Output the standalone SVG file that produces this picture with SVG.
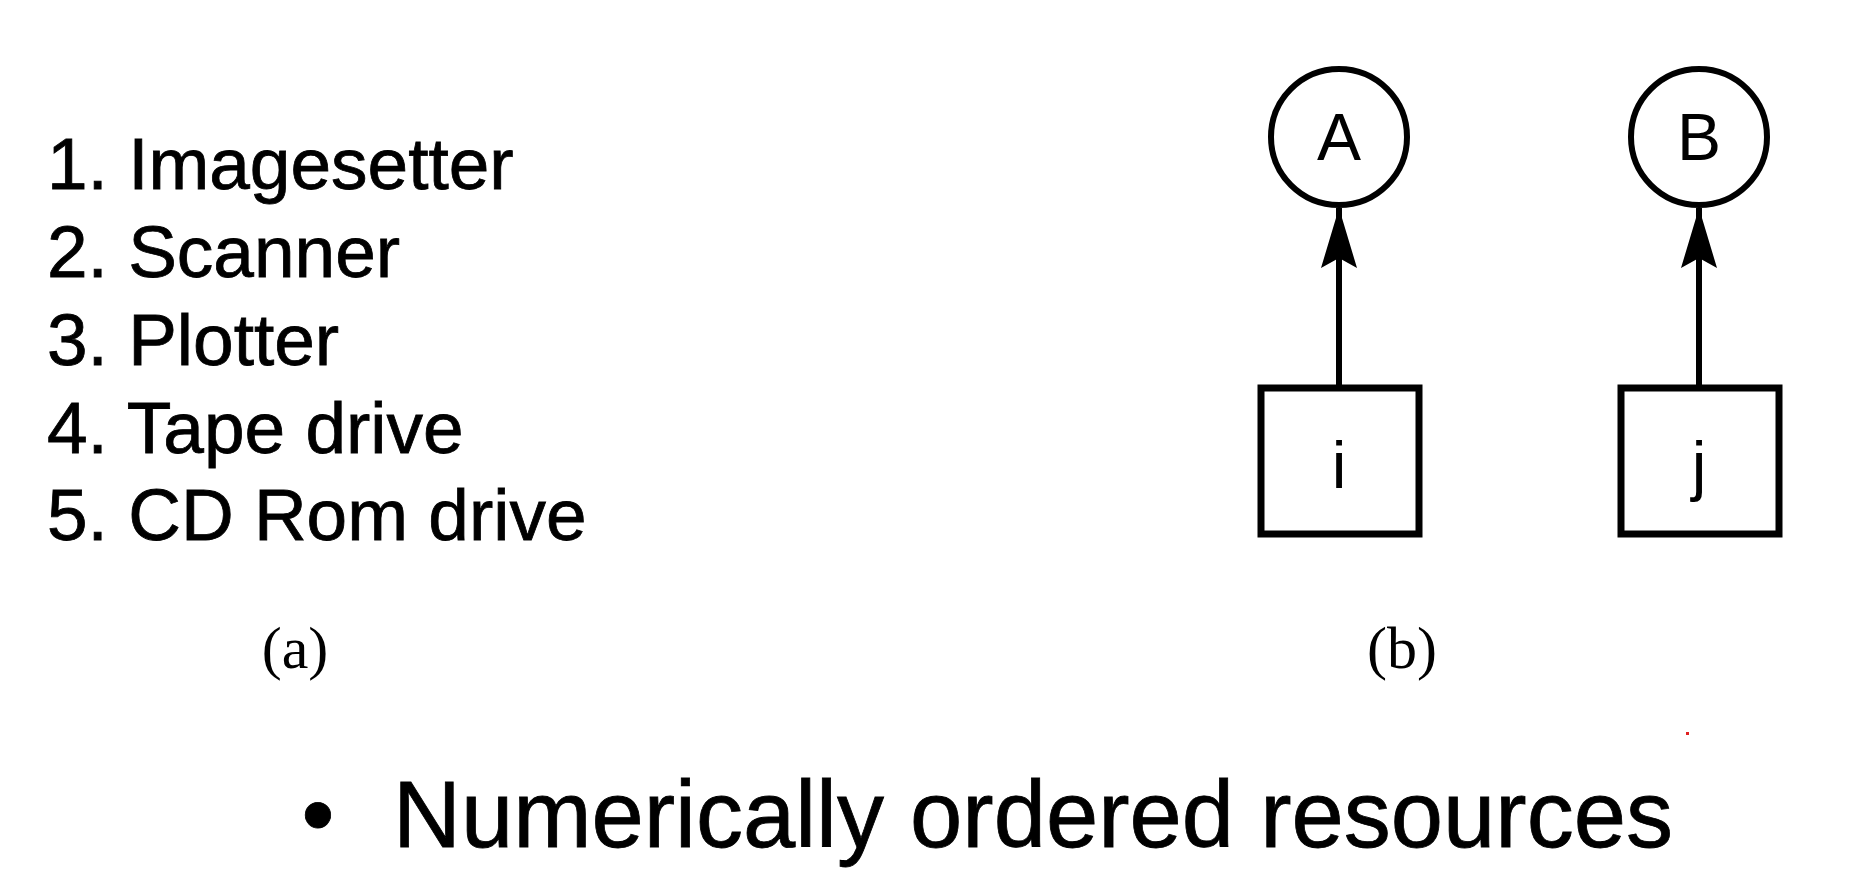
<svg xmlns="http://www.w3.org/2000/svg" width="1850" height="882" viewBox="0 0 1850 882">
<style>
.list{font-family:"Liberation Sans",Arial,sans-serif;font-size:73px;fill:#000;stroke:#000;stroke-width:0.8}
.lbl{font-family:"Liberation Sans",Arial,sans-serif;font-size:66px;fill:#000;text-anchor:middle}
.cap{font-family:"Liberation Serif","Times New Roman",serif;font-size:60px;fill:#000;text-anchor:middle}
.bul{font-family:"Liberation Sans",Arial,sans-serif;font-size:94px;fill:#000;stroke:#000;stroke-width:0.8}
.node{fill:#fff;stroke:#000;stroke-width:6}
.box{fill:#fff;stroke:#000;stroke-width:7}
.edge{stroke:#000;stroke-width:6;fill:none}
</style>
<defs>
<marker id="arr" markerUnits="userSpaceOnUse" markerWidth="60" markerHeight="36" viewBox="0 0 60 36" refX="60" refY="18" orient="auto">
<path d="M0,0 L60,18 L0,36 L10,18 Z" fill="#000"/>
</marker>
</defs>
<rect width="1850" height="882" fill="#fff"/>
<g id="list">
<text class="list" x="47" y="189">1. Imagesetter</text>
<text class="list" x="47" y="277">2. Scanner</text>
<text class="list" x="47" y="365">3. Plotter</text>
<text class="list" x="47" y="453">4. Tape drive</text>
<text class="list" x="47" y="540">5. CD Rom drive</text>
</g>
<g id="connectors">
<line class="edge" x1="1339" y1="386" x2="1339" y2="208" marker-end="url(#arr)"/>
<line class="edge" x1="1699" y1="386" x2="1699" y2="208" marker-end="url(#arr)"/>
</g>
<g id="nodeA">
<circle class="node" cx="1339" cy="137" r="68"/>
<text class="lbl" x="1339" y="160">A</text>
</g>
<g id="nodeB">
<circle class="node" cx="1699" cy="137" r="68"/>
<text class="lbl" x="1699" y="160">B</text>
</g>
<g id="nodeI">
<rect class="box" x="1261" y="388" width="158" height="146"/>
<text class="lbl" x="1339" y="488">i</text>
</g>
<g id="nodeJ">
<rect class="box" x="1621" y="388" width="158" height="146"/>
<text class="lbl" x="1699" y="488">j</text>
</g>
<g id="captions">
<text class="cap" x="295" y="668">(a)</text>
<text class="cap" x="1402" y="668">(b)</text>
</g>
<g id="bullet">
<text class="bul" x="318" y="847" text-anchor="middle">•</text>
<text class="bul" x="393" y="847">Numerically ordered resources</text>
</g>
<rect x="1686" y="732" width="3" height="3" fill="#e02020"/>
</svg>
